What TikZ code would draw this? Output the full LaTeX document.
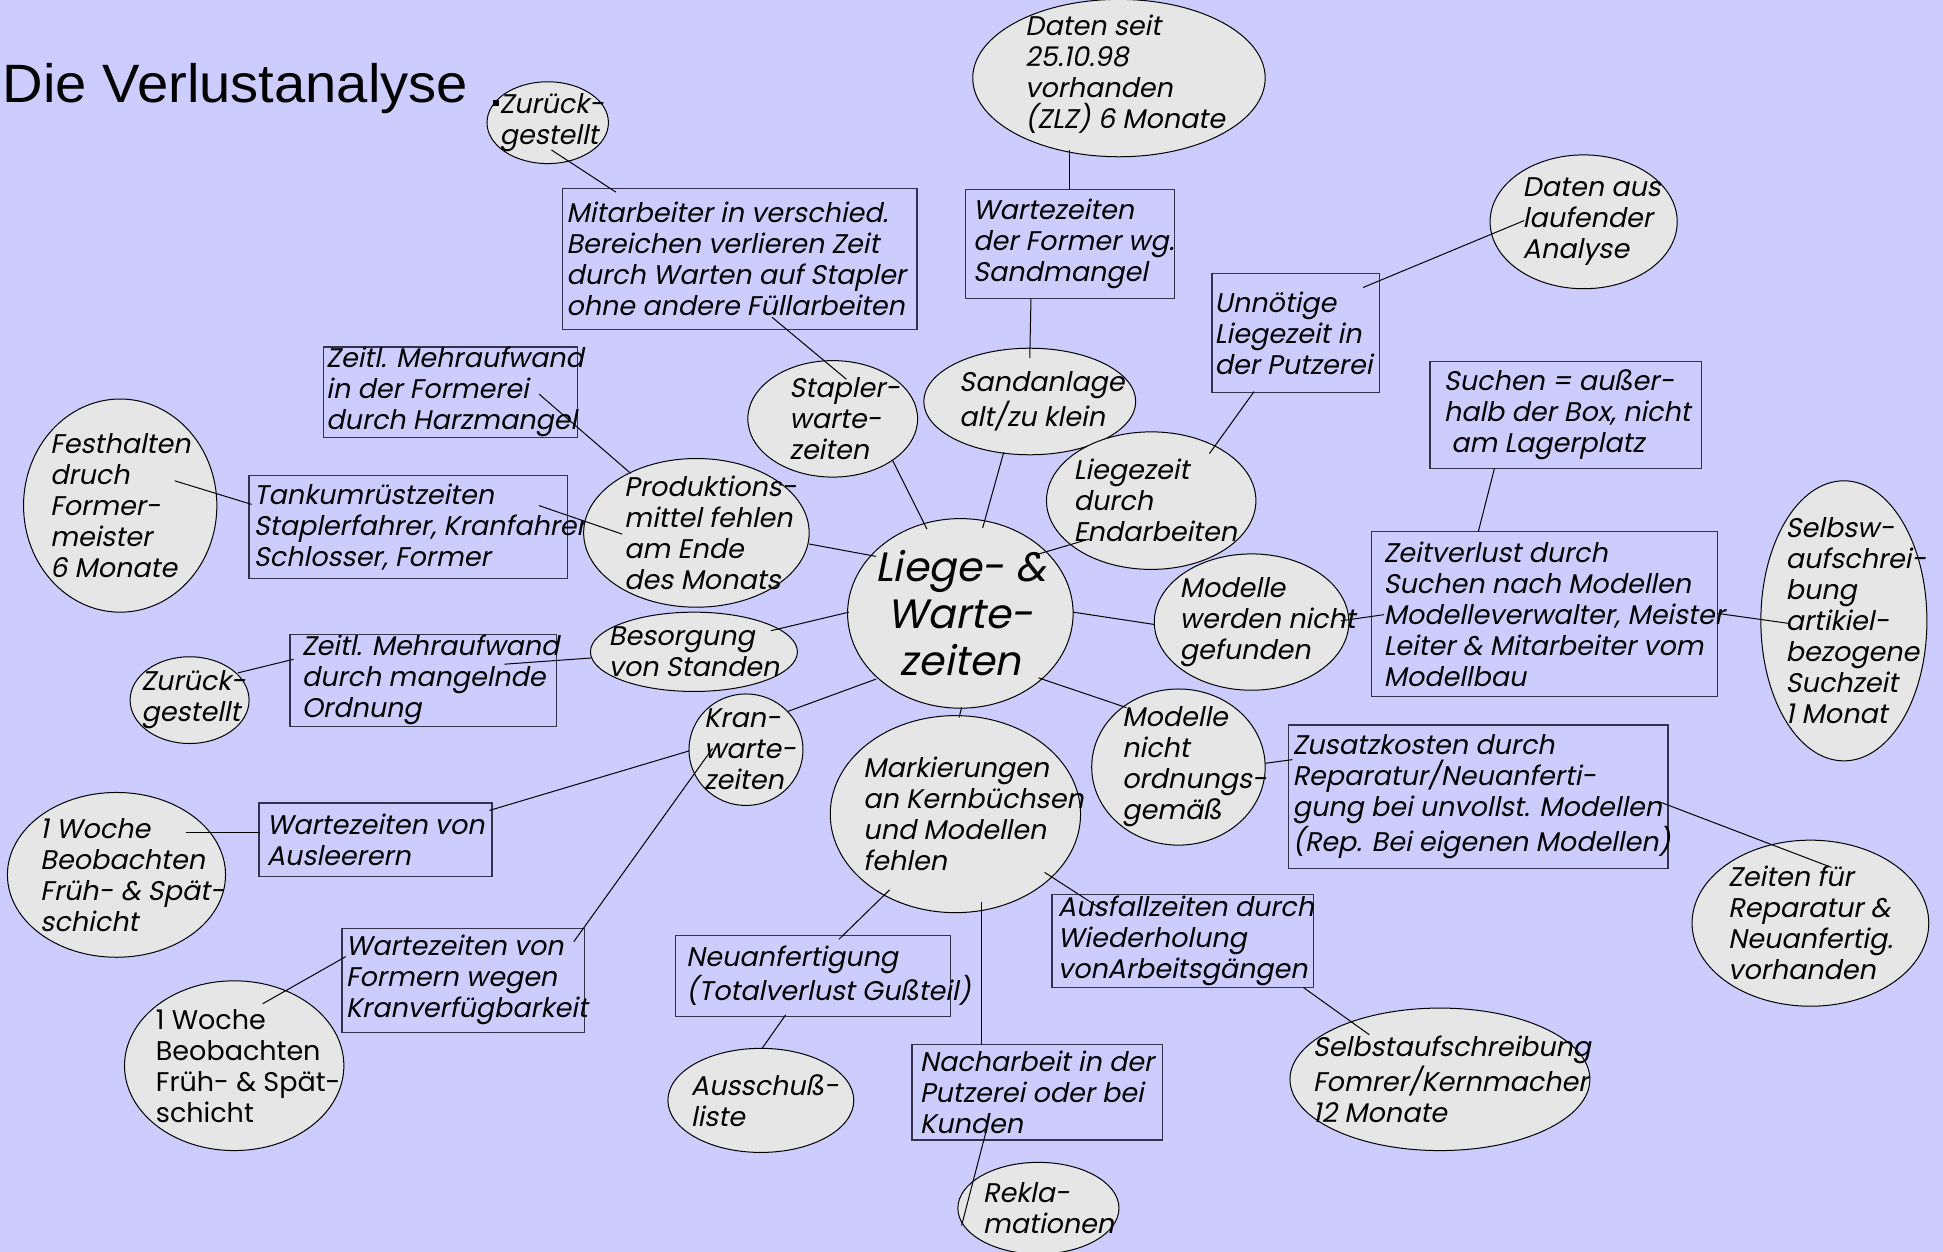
\documentclass[tikz,border=0pt]{standalone}
\usepackage{fontspec}
\usetikzlibrary{shapes.geometric}
\newfontfamily\gfont{Poppins}[FakeSlant=0.2]
\newfontfamily\gfontup{Poppins}
\newfontfamily\tfont{Liberation Sans}
\definecolor{bgcol}{RGB}{204,204,255}
\definecolor{ellfill}{RGB}{230,230,230}
\definecolor{boxcol}{RGB}{50,50,75}
\tikzset{
  ell/.style n args={2}{ellipse, draw=black, line width=0.5pt, fill=ellfill,
    minimum width=#1*0.6196pt, minimum height=#2*0.6196pt, inner sep=0pt},
  lbl/.style={inner sep=0pt, align=left, font=\gfont\fontsize{13.5}{15.5}\selectfont},
  blbl/.style={lbl, anchor=west, xshift=#1},
  bx/.style n args={2}{rectangle, draw=boxcol, line width=0.6pt,
    minimum width=#1*0.6196pt, minimum height=#2*0.6196pt, inner sep=0pt},
  con/.style={draw=black, line width=0.5pt}
}
\begin{document}
\begin{tikzpicture}[x=0.6196pt, y=-0.6196pt]
\fill[bgcol] (0,0) rectangle (1568,1010);
\useasboundingbox (0,0) rectangle (1568,1010);

\node[anchor=base west, inner sep=0pt, font=\tfont\fontsize{27}{32}\selectfont] (title) at (2,83) {\scalebox{1.04}[1]{Die Verlustanalyse}};

% boxes (text as label so the box keeps its size)
\node[bx={286}{114}, label={[blbl=2pt]west:{Mitarbeiter in verschied.\\Bereichen verlieren Zeit\\durch Warten auf Stapler\\ohne andere Füllarbeiten}}] (b1) at (597,209) {};
\node[bx={169}{88}, label={[blbl=4pt]west:{Wartezeiten\\der Former wg.\\Sandmangel}}] (b2) at (863.5,197) {};
\node[bx={135}{96}, label={[blbl=1.5pt]west:{Unnötige\\Liegezeit in\\der Putzerei}}] (b3) at (1045.5,269) {};
\node[bx={219}{86}, label={[blbl=7pt]west:{Suchen = außer-\\halb der Box, nicht\\\ am Lagerplatz}}] (b4) at (1263.5,335) {};
\node[bx={205}{73}, label={[blbl=1.5pt]west:{Zeitl. Mehraufwand\\in der Formerei\\durch Harzmangel}}] (b5) at (363.5,316.5) {};
\node[bx={257}{83}, label={[blbl=2.5pt]west:{Tankumrüstzeiten\\Staplerfahrer, Kranfahrer\\Schlosser, Former}}] (b6) at (329.5,425.5) {};
\node[bx={279}{133}, label={[blbl=6pt]west:{Zeitverlust durch\\Suchen nach Modellen\\Modelleverwalter, Meister\\Leiter \& Mitarbeiter vom\\Modellbau}}] (b7) at (1246.5,495.5) {};
\node[bx={215}{74}, label={[blbl=6pt]west:{Zeitl. Mehraufwand\\durch mangelnde\\Ordnung}}] (b8) at (341.5,549) {};
\node[bx={306}{116}, label={[blbl=2pt]west:{Zusatzkosten durch\\Reparatur/Neuanferti-\\gung bei unvollst. Modellen\\(Rep. Bei eigenen Modellen)}}] (b9) at (1193,643) {};
\node[bx={188}{59}, label={[blbl=4pt]west:{Wartezeiten von\\Ausleerern}}] (b10) at (303,677.5) {};
\node[bx={211}{75}, label={[blbl=3pt]west:{Ausfallzeiten durch\\Wiederholung\\vonArbeitsgängen}}] (b11) at (954.5,759.5) {};
\node[bx={196}{84}, label={[blbl=2pt]west:{Wartezeiten von\\Formern wegen\\Kranverfügbarkeit}}] (b12) at (374,791) {};
\node[bx={222}{65}, label={[blbl=5.5pt]west:{Neuanfertigung\\(Totalverlust Gußteil)}}] (b13) at (656,787.5) {};
\node[bx={202}{77}, label={[blbl=4pt]west:{Nacharbeit in der\\Putzerei oder bei\\Kunden}}] (b14) at (837,881.5) {};

% ellipses (text as centred label so the ellipse keeps its size)
\node[ell={98}{66}, label={[lbl, xshift=2pt]center:{Zurück-\\gestellt}}] (zur1) at (442,99) {};
\node[ell={236}{127}, label={[lbl, xshift=3pt, yshift=2pt]center:{Daten seit\\25.10.98\\vorhanden\\(ZLZ) 6 Monate}}] (daten) at (903,63) {};
\node[ell={151}{108}, label={[lbl, xshift=4pt]center:{Daten aus\\laufender\\Analyse}}] (datenaus) at (1278,179) {};
\node[ell={137}{94}, label={[lbl, xshift=6pt]center:{Stapler-\\warte-\\zeiten}}] (stapler) at (672,338) {};
\node[ell={171}{86}, label={[lbl, xshift=6pt]center:{Sandanlage\\alt/zu klein}}] (sand) at (831,324) {};
\node[ell={169}{111}, label={[lbl, xshift=2pt]center:{Liegezeit\\durch\\Endarbeiten}}] (liegez) at (929,404) {};
\node[ell={182}{120}, label={[lbl, xshift=7pt]center:{Produktions-\\mittel fehlen\\am Ende\\des Monats}}] (prod) at (562,430) {};
\node[ell={182}{153}, label={[lbl, align=center, font=\gfont\fontsize{20.5}{23.5}\selectfont]center:{Liege- \&\\Warte-\\zeiten}}] (center) at (775,495) {};
\node[ell={156}{172}, label={[lbl]center:{Festhalten\\druch\\Former-\\meister\\6 Monate}}] (fest) at (97,408) {};
\node[ell={167}{64}, label={[lbl]center:{Besorgung\\von Standen}}] (besorg) at (560,526) {};
\node[ell={96}{70}, label={[lbl, xshift=2pt]center:{Zurück-\\gestellt}}] (zur2) at (153,565) {};
\node[ell={157}{110}, label={[lbl, xshift=8pt]center:{Modelle\\werden nicht\\gefunden}}] (modelle) at (1010,502) {};
\node[ell={92}{90}, label={[lbl, xshift=2pt]center:{Kran-\\warte-\\zeiten}}] (kran) at (602,605) {};
\node[ell={202}{159}, label={[lbl, xshift=9pt]center:{Markierungen\\an Kernbüchsen\\und Modellen\\fehlen}}] (mark) at (771,657) {};
\node[ell={140}{126}, label={[lbl, xshift=8pt]center:{Modelle\\nicht\\ordnungs-\\gemäß}}] (nicht) at (951,619) {};
\node[ell={134}{226}, label={[lbl, xshift=6pt]center:{Selbsw-\\aufschrei-\\bung\\artikiel-\\bezogene\\Suchzeit\\1 Monat}}] (selbsw) at (1488,501) {};
\node[ell={176}{133}, label={[lbl, xshift=8pt]center:{1 Woche\\Beobachten\\Früh- \& Spät-\\schicht}}] (woche1) at (94,706) {};
\node[ell={191}{134}, label={[lbl]center:{Zeiten für\\Reparatur \&\\Neuanfertig.\\vorhanden}}] (zeiten) at (1461,745) {};
\node[ell={177}{137}, label={[lbl, xshift=7pt, font=\gfontup\fontsize{13.5}{15.5}\selectfont]center:{1 Woche\\Beobachten\\Früh- \& Spät-\\schicht}}] (woche2) at (189,860) {};
\node[ell={150}{84}, label={[lbl, xshift=2pt]center:{Ausschuß-\\liste}}] (aussch) at (614,888) {};
\node[ell={242}{115}, label={[lbl, xshift=6pt]center:{Selbstaufschreibung\\Fomrer/Kernmacher\\12 Monate}}] (selbst) at (1162,871) {};
\node[ell={130}{74}, label={[lbl, xshift=5pt]center:{Rekla-\\mationen}}] (rekla) at (838,975) {};

\node[fill=black, minimum size=3pt, inner sep=0pt] (dot) at (400,83) {};

% connectors
\draw[con] ([shift={(3,22)}]zur1.center) -- ([shift={(-100,-54)}]b1.center);
\draw[con] ([shift={(-40,58)}]daten.center) -- ([shift={(-0.5,-44)}]b2.center);
\draw[con] ([shift={(-31.5,44)}]b2.center) -- ([shift={(0,-35)}]sand.center);
\draw[con] ([shift={(26,47)}]b1.center) -- ([shift={(11,-32)}]stapler.center);
\draw[con] ([shift={(48,33)}]stapler.center) -- ([shift={(-27,-68)}]center.center);
\draw[con] ([shift={(-21,41)}]sand.center) -- ([shift={(18,-69)}]center.center);
\draw[con] ([shift={(-33.5,47)}]b3.center) -- ([shift={(47,-38)}]liegez.center);
\draw[con] ([shift={(54.5,-37)}]b3.center) -- ([shift={(-48,-1)}]datenaus.center);
\draw[con] ([shift={(-50,31)}]liegez.center) -- ([shift={(60,-47)}]center.center);
\draw[con] ([shift={(-57.5,43)}]b4.center) -- ([shift={(-53.5,-66.5)}]b7.center);
\draw[con] ([shift={(71.5,1.5)}]b5.center) -- ([shift={(-53,-48)}]prod.center);
\draw[con] ([shift={(44,-20)}]fest.center) -- ([shift={(-126.5,-18.5)}]b6.center);
\draw[con] ([shift={(105.5,-17.5)}]b6.center) -- ([shift={(-60,1)}]prod.center);
\draw[con] ([shift={(91,9)}]prod.center) -- ([shift={(-68,-46)}]center.center);
\draw[con] ([shift={(62,-17)}]besorg.center) -- ([shift={(-90,-1)}]center.center);
\draw[con] ([shift={(39,-22)}]zur2.center) -- ([shift={(-104.5,-17)}]b8.center);
\draw[con] ([shift={(65.5,-13)}]b8.center) -- ([shift={(-83,5)}]besorg.center);
\draw[con] ([shift={(91,-1)}]center.center) -- ([shift={(-78,2)}]modelle.center);
\draw[con] ([shift={(72,-1)}]modelle.center) -- ([shift={(-129.5,0.5)}]b7.center);
\draw[con] ([shift={(139.5,-0.5)}]b7.center) -- ([shift={(-45,2)}]selbsw.center);
\draw[con] ([shift={(-68,53)}]center.center) -- ([shift={(34,-31)}]kran.center);
\draw[con] ([shift={(63,52)}]center.center) -- ([shift={(-42,-48)}]nicht.center);
\draw[con] ([shift={(1,76)}]center.center) -- ([shift={(3,-78)}]mark.center);
\draw[con] ([shift={(-46,1)}]kran.center) -- ([shift={(92,-23.5)}]b10.center);
\draw[con] ([shift={(56,-34)}]woche1.center) -- ([shift={(-93,-5.5)}]b10.center);
\draw[con] ([shift={(-27,-1)}]kran.center) -- ([shift={(89,-31)}]b12.center);
\draw[con] ([shift={(-95,-19)}]b12.center) -- ([shift={(23,-50)}]woche2.center);
\draw[con] ([shift={(70,-3)}]nicht.center) -- ([shift={(-150,-30)}]b9.center);
\draw[con] ([shift={(146,4)}]b9.center) -- ([shift={(17,-45)}]zeiten.center);
\draw[con] ([shift={(-53,61)}]mark.center) -- ([shift={(21,-29.5)}]b13.center);
\draw[con] ([shift={(72,47)}]mark.center) -- ([shift={(-63.5,-24.5)}]b11.center);
\draw[con] ([shift={(21,71)}]mark.center) -- ([shift={(-45,-38.5)}]b14.center);
\draw[con] ([shift={(-22,31.5)}]b13.center) -- ([shift={(1,-42)}]aussch.center);
\draw[con] ([shift={(97.5,37.5)}]b11.center) -- ([shift={(-57,-36)}]selbst.center);
\draw[con] ([shift={(-41,30.5)}]b14.center) -- ([shift={(-62,14)}]rekla.center);
\end{tikzpicture}
\end{document}
